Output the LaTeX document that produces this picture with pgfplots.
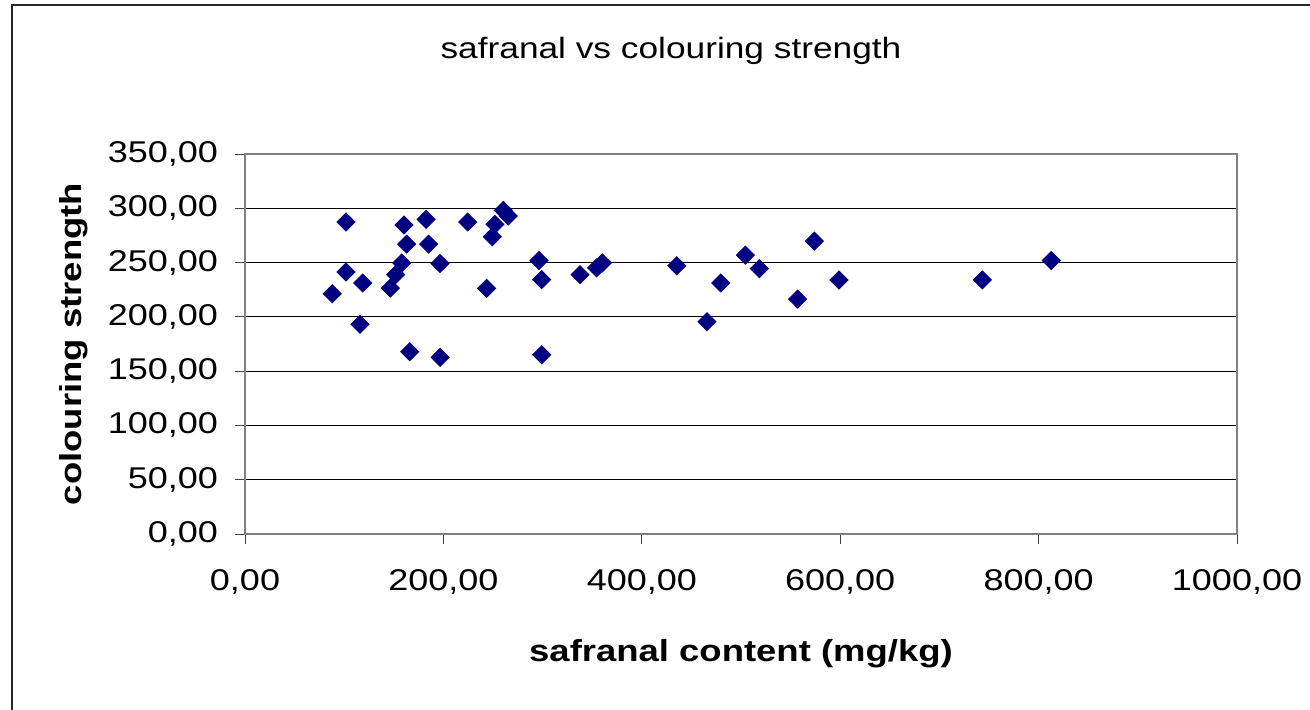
\documentclass[border=0pt]{standalone}
\usepackage{pgfplots}
\pgfplotsset{compat=1.18}
\usepackage{fontspec}
\setmainfont{Liberation Sans}
\newfontfamily\chartfont[FakeStretch=1.2]{Liberation Sans}
\definecolor{navydot}{RGB}{0,0,128}
\definecolor{boxgray}{RGB}{128,128,128}
\begin{document}
\begin{tikzpicture}[x=0.5pt,y=0.5pt]
\path[use as bounding box] (0,0) rectangle (1310,709);
\draw[line width=1pt, black!85] (12,-10) -- (12,704) -- (1320,704);
\node[anchor=base, font=\chartfont\fontsize{14.7}{16}\selectfont] at (671,651) {safranal vs colouring strength};
\node[anchor=base, font=\chartfont\fontsize{15.2}{17}\selectfont\bfseries] at (741,48) {safranal content (mg/kg)};
\node[anchor=base, rotate=90, font=\chartfont\fontsize{15.2}{17}\selectfont\bfseries] at (81,365) {colouring strength};
\begin{axis}[
  at={(122.5pt,87.5pt)}, anchor=south west,
  scale only axis, width=496pt, height=190pt,
  xmin=0, xmax=1000, ymin=0, ymax=350,
  xtick={0,200,...,1000}, ytick={0,50,...,350},
  ymajorgrids, major grid style={black, line width=0.5pt},
  axis line style={boxgray, line width=0.8pt},
  tick style={black!75, line width=0.5pt},
  tick align=outside, major tick length=5pt,
  xtick pos=bottom, ytick pos=left,
  minor tick num=0,
  tick label style={font=\chartfont\fontsize{15}{17}\selectfont},
  yticklabel style={xshift=-5pt},
  xticklabel style={yshift=-9pt},
  /pgf/number format/.cd, fixed, fixed zerofill, precision=2, use comma, 1000 sep={}, assume math mode=true,
]
\addplot[only marks, mark=square*, mark size=3.2pt, mark options={draw=navydot, fill=navydot, rotate=45}] coordinates {
(101.8,287.3) (88,221.3) (101.8,241.4) (118.6,231.2) (115.9,193.2)
(160.3,284.6) (163,267) (158,249.7) (151.9,238.9) (146.5,226.5)
(166,167.9) (182.5,289.8) (185.2,267) (196.6,249.1) (196.6,162.7)
(224.5,287.3) (252,285.2) (249.3,273.8) (260.4,298.1) (265.4,292.9)
(243.6,226.2) (296.4,251.9) (299.1,234.3) (299.1,165.1) (337.7,238.9)
(354.5,245.1) (360.2,249.7)
(435.2,247) (465.7,195.6) (479.5,231.2) (504.4,256.8) (518.5,244.4)
(557.1,216.4) (573.9,269.8) (598.8,234) (743.3,234) (812.8,251.9)
};
\end{axis}
\end{tikzpicture}
\end{document}
